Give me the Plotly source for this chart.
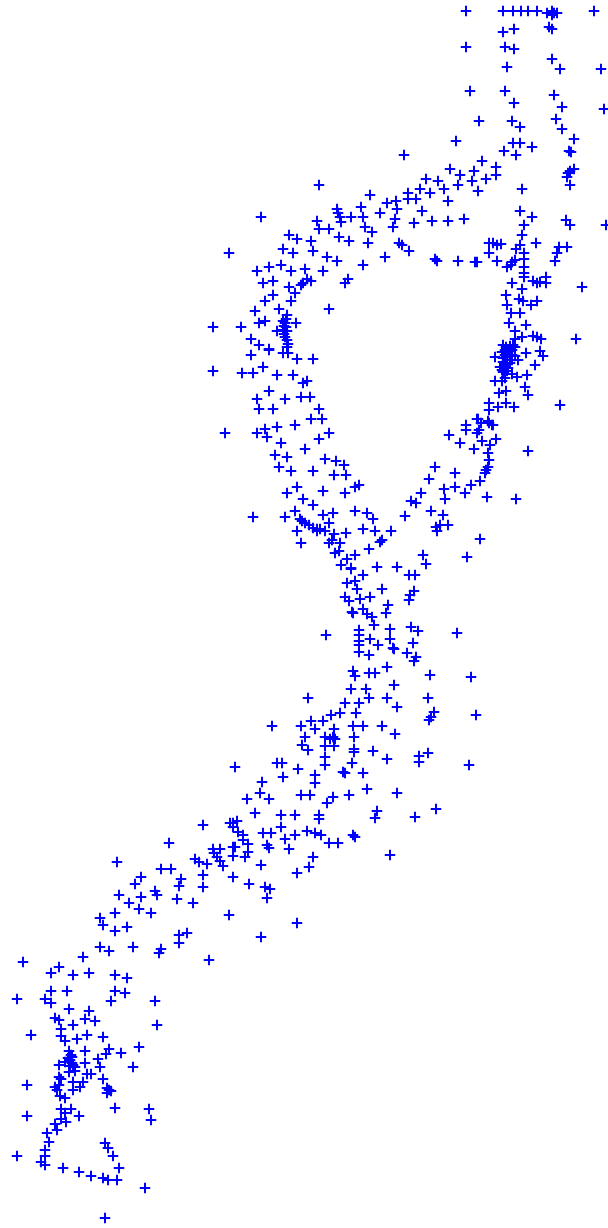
import plotly.graph_objects as go

top_right = [(466,11),(503,11),(513,11),(521,11),(528,11),(537,11),(547,13),(552,11),(554,13),(557,13),(552,15),(594,11),
(503,32),(514,29),(549,27),(552,29),(466,47),(505,47),(514,49),(507,67),(552,59),(560,69),(601,69),(470,91),(505,91),(514,103),
(554,95),(562,107),(604,109),(479,121),(512,121),(520,127),(556,119),(562,129),(574,139),(456,141),(513,143),(520,143),(532,147),
(569,151),(571,152),(504,151),(516,155),(404,155),(482,161),(450,169),(496,167),(474,171),(460,175),(496,175),(574,169),(570,171),
(568,173),(567,177),(570,185),(426,179),(438,181),(486,179),(472,181),(420,189),(444,189),(458,185),(478,191),(522,189),(408,193),
(430,193),(408,199),(416,199),(448,201),(422,211),(520,211),(532,217),(414,223),(432,221),(448,221),(464,219),(524,225),(566,220),
(570,225),(606,225),(522,235)]

upper_left = [(319,185),(370,195),(387,203),(396,201),(361,207),(337,209),(338,213),(340,217),(261,217),(351,217),(363,217),(397,209),
(380,213),(317,221),(341,222),(395,219),(393,227),(365,227),(319,229),(329,229),(372,232),(289,235),(297,239),(311,241),(339,237),
(349,241),(368,243),(399,243),(283,249),(229,253),(293,253),(313,251),(327,257),(337,261),(385,257),(363,265),(269,267),(281,265),
(257,271),(291,271),(305,269),(323,271),(263,283),(273,281),(307,279),(311,281),(303,283),(301,285),(348,279),(345,283),(289,287),
(295,293),(273,295),(265,301),(291,301),(255,311),(279,309),(329,309),(287,315),(286,319),(285,323),(296,323),(265,321),(259,323),
(213,327),(241,327),(277,331),(283,330),(284,334),(251,339),(287,340),(259,345),(269,349),(287,347),(284,326),(286,327),(283,321),
(287,331),(285,337),(288,344)]

left_loop = [(251,355),(269,350),(283,353),(288,353),(297,359),(313,359),(263,367),(213,371),(242,373),(253,373),(277,375),(293,375),
(307,381),(303,383),(269,391),(257,399),(285,399),(301,397),(310,397),(259,409),(273,409),(319,409),(311,419),(322,419),(295,425),
(265,429),(277,427),(257,433),(225,433),(267,437),(329,433),(319,439),(281,443),(305,449),(275,455),(287,457),(325,459),(336,461),
(344,465),(279,467),(291,471),(313,471),(334,475),(346,475),(297,487),(359,485),(355,487),(287,493),(323,491),(345,493),(303,499),
(313,505),(295,511),(355,511),(367,513),(253,517),(285,517),(323,515),(333,513),(373,519),(300,519),(302,521),(305,523),(309,525),
(313,528),(317,529),(320,529),(325,531),(329,523),(297,531),(317,531),(363,529),(375,531),(391,531),(334,534),(346,533),(301,543),
(380,542),(382,540),(332,540),(329,543),(340,543),(369,549),(335,553),(339,551),(355,555),(347,559),(341,565),(351,568),(377,567),
(397,567)]

right_loop = [(402,245),(409,251),(435,259),(437,261),(458,261),(475,262),(477,262),(489,243),(493,243),(497,245),(501,244),(536,243),
(567,247),(559,247),(557,253),(555,261),(520,245),(516,249),(489,253),(524,253),(497,261),(515,260),(512,262),(524,259),(507,267),
(511,265),(524,267),(524,277),(524,273),(533,281),(546,277),(546,283),(537,283),(540,282),(512,283),(582,287),(522,289),(506,295),
(519,299),(537,301),(531,305),(507,305),(523,301),(511,313),(520,313),(509,323),(526,325),(515,331),(522,337),(533,336),(537,337),
(541,339),(576,339),(515,339),(513,345),(503,345),(505,350),(512,350),(515,347),(502,352),(508,353),(505,355),(510,356),(515,356),
(495,357),(503,358),(507,360),(512,360),(518,360),(526,353),(540,351),(543,356),(535,365),(500,367),(505,367),(508,368),(503,372),
(517,377),(512,374),(527,375),(505,378),(495,381),(502,381),(525,387),(499,393),(506,391),(528,395),(489,403),(506,403),(489,410),
(498,407),(514,407),(560,405),(478,419),(488,421),(492,425),(506,347),(510,349),(504,352),(509,351),(507,357),(503,362),(506,363),
(510,363),(505,365),(502,370),(507,371),(510,346),(512,355)]

lower_right_loop = [(477,419),(466,425),(466,430),(481,423),(489,423),(493,425),(477,433),(479,430),(449,435),(496,439),(482,441),
(460,443),(490,445),(474,449),(528,451),(488,453),(489,460),(435,467),(488,467),(486,470),(485,473),(455,473),(429,479),(480,481),
(471,485),(444,489),(455,487),(421,493),(465,493),(487,497),(516,499),(445,499),(411,501),(416,503),(431,511),(405,516),(443,515),
(448,525),(440,525),(436,527),(437,531),(480,539),(467,557),(423,555),(426,564),(409,575),(415,575),(363,575),(351,569)]

neck = [(347,583),(355,581),(382,589),(414,591),(410,595),(409,600),(345,597),(349,601),(360,599),(370,597),(357,589),(388,605),
(386,613),(363,609),(367,614),(353,613),(352,612),(372,617),(374,625),(411,627),(418,631),(457,633),(359,630),(359,635),(390,629),
(390,639),(370,639),(359,641),(378,645),(413,643),(393,648),(359,645)]

middle = [(326,635),(394,649),(359,652),(369,655),(407,653),(416,657),(414,661),(387,667),(353,671),(355,676),(369,673),(375,673),
(430,675),(471,677),(394,685),(351,689),(366,689),(308,698),(369,698),(387,698),(428,698),(345,703),(359,703),(397,707),(331,715),
(340,713),(356,713),(434,712),(431,717),(429,720),(476,715),(272,726),(301,726),(311,721),(323,721),(353,726),(363,726),(382,726),
(315,729),(334,729),(395,734),(305,737),(325,737),(333,737),(330,739),(354,737),(335,739),(302,745),(325,746),(334,746),(308,750),
(354,749),(354,752),(373,751),(428,753),(419,756),(387,759),(419,762),(325,757),(325,765),(282,763),(277,763),(352,763),(469,765),
(298,769),(343,772),(345,773),(363,773),(283,777),(315,775),(315,783),(262,782),(367,789),(397,793),(260,793),(301,795),(310,795),
(349,795),(333,797),(327,803),(269,799),(436,809),(377,811),(375,818),(415,817),(281,815),(295,815),(319,815),(319,819),(281,827),
(307,831),(315,833),(321,835),(263,833),(271,833),(295,835),(285,839),(353,835),(355,837),(329,843),(338,843),(267,845),(269,848),
(289,849),(313,857),(390,855)]

lower_arm = [(235,767),(117,862),(169,843),(203,825),(233,823),(237,821),(230,823),(233,827),(238,832),(243,835),(243,840),(248,844),
(247,799),(255,813),(233,847),(235,847),(213,849),(220,849),(214,853),(233,856),(248,852),(245,857),(217,857),(195,859),(199,862),
(207,864),(220,861),(223,866),(261,865),(161,869),(171,869),(141,877),(135,884),(203,875),(181,879),(179,886),(203,887),(233,877),
(249,884),(297,873),(309,867),(265,887),(270,889),(267,898),(297,923),(261,937),(229,915),(119,895),(129,903),(141,897),(155,891),
(157,895),(177,899),(193,903),(139,909),(115,913),(151,913),(100,918),(103,925),(115,931),(127,927),(187,933),(179,935),(179,943),
(133,947),(109,951),(100,947),(161,949),(159,953),(209,960),(115,975),(127,978)]

bottom_left = [(23,962),(83,957),(51,973),(59,967),(73,975),(89,973),(51,991),(67,991),(115,991),(125,993),(17,999),(45,999),(51,1003),
(111,1001),(155,1001),(69,1009),(89,1011),(55,1018),(59,1020),(85,1019),(95,1021),(73,1025),(61,1029),(157,1025),(31,1035),(61,1036),
(87,1035),(103,1037),(65,1041),(77,1039),(139,1047),(109,1049),(69,1051),(85,1051),(106,1054),(121,1053),(72,1057),(70,1060),(98,1059),
(59,1065),(65,1062),(85,1063),(73,1065),(75,1067),(133,1067),(100,1067),(69,1072),(75,1071),(87,1074),(91,1074),(59,1077),(61,1079),
(103,1079),(73,1082),(83,1082),(27,1085),(55,1087),(59,1085),(80,1087),(73,1090),(109,1090),(107,1093),(111,1091),(57,1090),(60,1096),
(65,1098),(115,1108),(149,1109),(61,1109),(71,1109),(27,1116),(65,1113),(79,1116),(151,1120),(61,1119),(66,1122),(55,1124),(57,1130),
(47,1133),(49,1142),(105,1143),(108,1148),(45,1150),(113,1156),(17,1156),(45,1156),(41,1162),(45,1165),(63,1168),(119,1168),(79,1172),
(91,1176),(103,1178),(108,1180),(117,1180),(145,1188),(105,1218),(71,1055),(68,1058),(72,1063),(70,1066),(107,1088)]

groups = [top_right, upper_left, left_loop, right_loop, lower_right_loop, neck, middle, lower_arm, bottom_left]
x_values = [p[0] for g in groups for p in g]
y_values = [p[1] for g in groups for p in g]

fig = go.Figure(go.Scatter(
    x=x_values, y=y_values, mode="markers",
    marker=dict(symbol="cross-thin-open", size=7.5, color="#0000ff",
                line=dict(color="#0000ff", width=2)),
    hoverinfo="skip",
))
fig.update_layout(
    width=608, height=1228,
    margin=dict(l=0, r=0, t=0, b=0),
    paper_bgcolor="white", plot_bgcolor="white",
    showlegend=False,
    xaxis=dict(range=[0, 608], visible=False, fixedrange=True),
    yaxis=dict(range=[1228, 0], visible=False, fixedrange=True),
)
fig.write_html("out.html", config={"displayModeBar": False},
               post_script="document.body.style.margin='0';document.body.style.overflow='hidden';")
